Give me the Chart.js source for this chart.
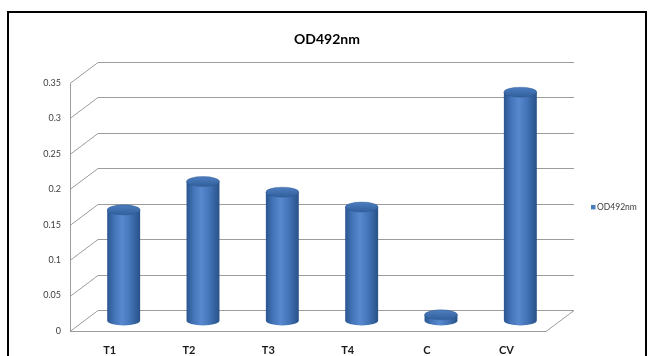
<!DOCTYPE html>
<html>
<head>
<meta charset="utf-8">
<script src="https://cdn.jsdelivr.net/npm/chart.js@4"></script>
<style>
  html, body { margin: 0; padding: 0; background: #fff; overflow: hidden; }
  #frame { position: absolute; left: 7px; top: 11px; width: 636px; height: 400px; border: 2px solid #000; }
  #wrap { position: absolute; left: 0; top: 0; width: 654px; height: 356px; }
</style>
</head>
<body>
<div id="frame"></div>
<div id="wrap"><canvas id="c" width="654" height="356"></canvas></div>
<script>
// Absorbance readings per sample
const categories = ['T1', 'T2', 'T3', 'T4', 'C', 'CV'];
const odValues = [0.156, 0.196, 0.181, 0.160, 0.008, 0.322];
const yTicks = [0, 0.05, 0.1, 0.15, 0.2, 0.25, 0.3, 0.35];
const seriesName = 'OD492nm';
const chartTitle = 'OD492nm';

// Depth of the pseudo-3D box (back wall offset relative to the front plane)
const DEPTH_X = 28;
const DEPTH_Y = -21;
const GRID_COLOR = '#9c9c9c';
const BAR_BLUE = '#4a7ebb';
const FONT = 'Lato, "Open Sans", sans-serif';

// Back wall grid, left side wall and floor outline
const wallPlugin = {
  id: 'wall3d',
  beforeDatasetsDraw(chart) {
    const { ctx, chartArea, scales } = chart;
    const y = scales.y;
    const L = chartArea.left, R = chartArea.right;
    ctx.save();
    ctx.strokeStyle = GRID_COLOR;
    ctx.lineWidth = 1;
    ctx.beginPath();
    yTicks.forEach(v => {
      const py = Math.round(y.getPixelForValue(v)) + 0.5;
      // back wall line
      ctx.moveTo(L + DEPTH_X, py + DEPTH_Y);
      ctx.lineTo(R + DEPTH_X, py + DEPTH_Y);
      // side wall diagonal
      ctx.moveTo(L, py);
      ctx.lineTo(L + DEPTH_X, py + DEPTH_Y);
    });
    const top = Math.round(y.getPixelForValue(yTicks[yTicks.length - 1])) + 0.5;
    const bottom = Math.round(y.getPixelForValue(0)) + 0.5;
    // front vertical edge of the side wall
    ctx.moveTo(L + 0.5, top);
    ctx.lineTo(L + 0.5, bottom);
    // floor front edge and right edge
    ctx.moveTo(L, bottom);
    ctx.lineTo(R, bottom);
    ctx.lineTo(R + DEPTH_X, bottom + DEPTH_Y);
    ctx.stroke();
    ctx.restore();
  }
};

// Cylinders drawn at mid-depth from the bar elements laid out by Chart.js
const cylinderPlugin = {
  id: 'cylinders',
  beforeDatasetsDraw(chart) {
    const { ctx } = chart;
    chart.data.datasets.forEach((ds, di) => {
      const meta = chart.getDatasetMeta(di);
      meta.data.forEach(el => {
        const p = el.getProps(['x', 'y', 'base', 'width'], true);
        const cx = p.x + DEPTH_X / 2;
        const topY = p.y + DEPTH_Y / 2;
        const baseY = p.base + DEPTH_Y / 2;
        const rx = p.width / 2;
        const ry = 5;
        const left = cx - rx, right = cx + rx;

        ctx.save();
        // body
        const g = ctx.createLinearGradient(left, 0, right, 0);
        g.addColorStop(0, '#2a558f');
        g.addColorStop(0.22, '#4475b9');
        g.addColorStop(0.45, '#5889cf');
        g.addColorStop(0.7, '#4374b7');
        g.addColorStop(1, '#285188');
        ctx.beginPath();
        ctx.moveTo(left, topY);
        ctx.lineTo(left, baseY);
        ctx.ellipse(cx, baseY, rx, ry, 0, Math.PI, 0, true);
        ctx.lineTo(right, topY);
        ctx.closePath();
        ctx.fillStyle = g;
        ctx.fill();

        // top cap
        const tg = ctx.createLinearGradient(0, topY - ry, 0, topY + ry);
        tg.addColorStop(0, '#4d7ebf');
        tg.addColorStop(1, '#325f9c');
        ctx.beginPath();
        ctx.ellipse(cx, topY, rx, ry, 0, 0, Math.PI * 2);
        ctx.fillStyle = tg;
        ctx.fill();
        ctx.strokeStyle = 'rgba(40,80,135,0.6)';
        ctx.lineWidth = 0.6;
        ctx.stroke();
        ctx.restore();
      });
    });
    return false;
  }
};

// Series key on the right
const keyPlugin = {
  id: 'seriesKey',
  afterDraw(chart) {
    const { ctx, chartArea } = chart;
    const ds = chart.data.datasets[0];
    const cy = (chartArea.top + chartArea.bottom) / 2 + 0.5;
    const x0 = 591;
    ctx.save();
    ctx.fillStyle = ds.borderColor;
    ctx.fillRect(x0, cy - 2.5, 4.5, 4.5);
    ctx.fillStyle = '#404040';
    ctx.font = '8.5px ' + FONT;
    ctx.textBaseline = 'middle';
    ctx.textAlign = 'left';
    ctx.fillText(ds.label, x0 + 6, cy);
    ctx.restore();
  }
};

new Chart(document.getElementById('c'), {
  type: 'bar',
  data: {
    labels: categories,
    datasets: [{
      label: seriesName,
      data: odValues,
      backgroundColor: BAR_BLUE,
      borderColor: BAR_BLUE,
      barPercentage: 0.415,
      categoryPercentage: 1
    }]
  },
  options: {
    responsive: false,
    animation: false,
    events: [],
    layout: { padding: 0 },
    plugins: {
      legend: { display: false },
      tooltip: { enabled: false },
      title: {
        display: true,
        text: chartTitle,
        color: '#000',
        font: { family: FONT, size: 14, weight: 'bold' },
        padding: { top: 31, bottom: 35 }
      }
    },
    scales: {
      x: {
        offset: true,
        grid: { display: false, drawTicks: false },
        border: { display: false },
        ticks: {
          color: '#1a1a1a',
          padding: 13,
          font: { family: FONT, size: 11, weight: 'bold' }
        },
        afterFit(scale) { scale.height = 25; }
      },
      y: {
        min: 0,
        max: 0.35,
        grid: { display: false, drawTicks: false },
        border: { display: false },
        afterBuildTicks(scale) { scale.ticks = yTicks.map(v => ({ value: v })); },
        ticks: {
          color: '#404040',
          padding: 9,
          font: { family: FONT, size: 9 },
          callback: v => String(v)
        },
        afterFit(scale) { scale.width = 70; }
      },
      // empty right-hand strip that holds the series key
      keyStrip: {
        type: 'linear',
        position: 'right',
        display: true,
        grid: { display: false, drawTicks: false },
        border: { display: false },
        ticks: { display: false },
        afterFit(scale) { scale.width = 108; }
      }
    }
  },
  plugins: [wallPlugin, cylinderPlugin, keyPlugin]
});
</script>
</body>
</html>
